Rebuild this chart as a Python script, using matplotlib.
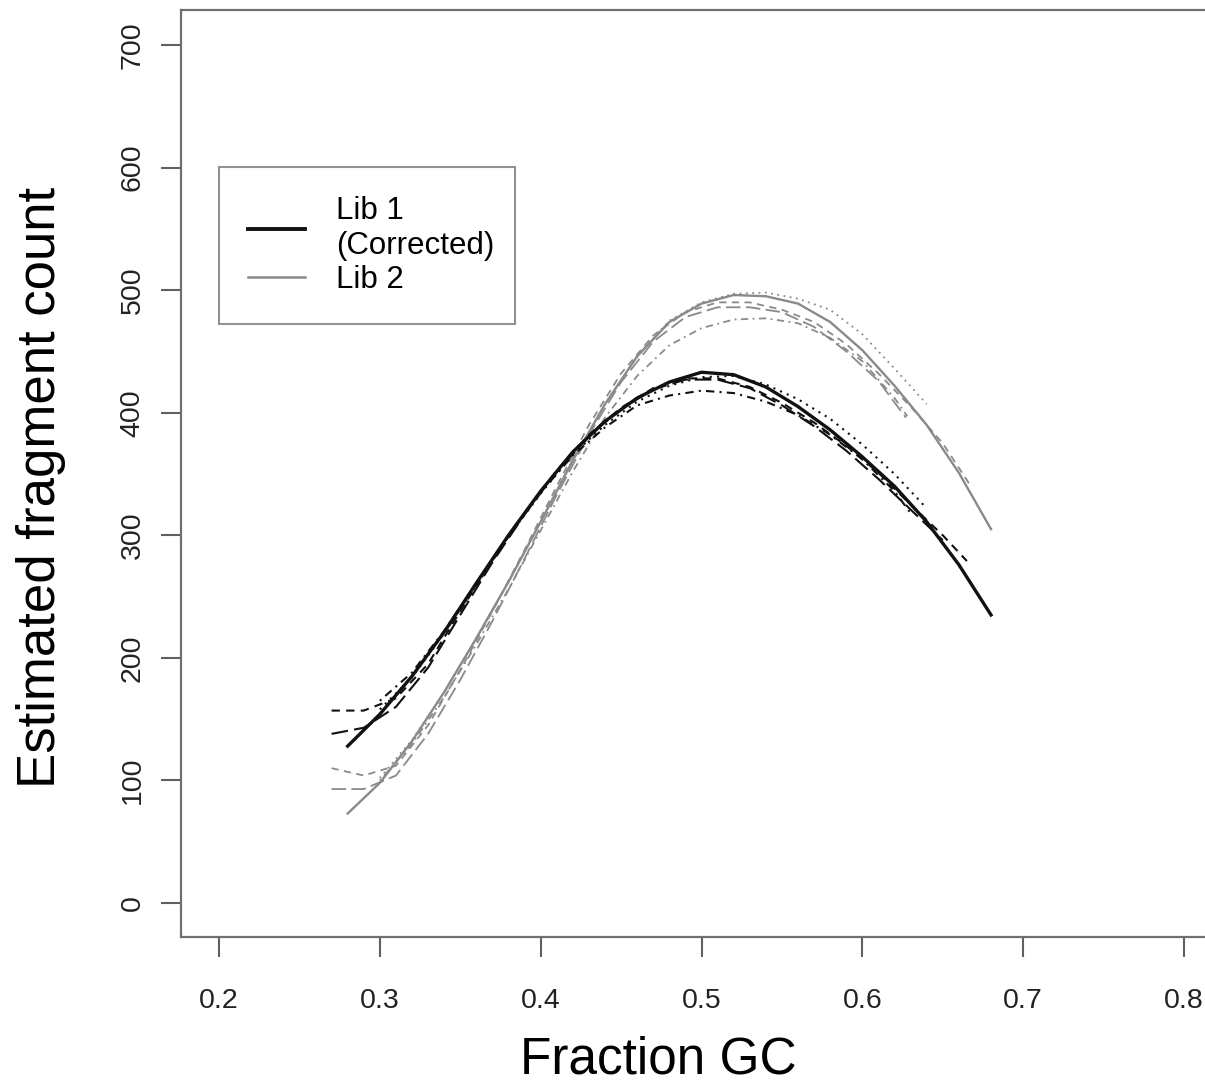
import matplotlib
matplotlib.use("Agg")
import matplotlib.pyplot as plt
from matplotlib.lines import Line2D

plt.rcParams['font.family'] = ['Liberation Sans', 'DejaVu Sans']

# Lib 1 (corrected) - black curves
lib1_solid_x = [0.28, 0.30, 0.32, 0.34, 0.36, 0.38, 0.40, 0.42, 0.44, 0.46, 0.48,
                0.50, 0.52, 0.54, 0.56, 0.58, 0.60, 0.62, 0.64, 0.66, 0.68]
lib1_solid_y = [128, 154, 185, 221, 261, 300, 336, 368, 393, 412, 425,
                433, 431, 421, 405, 386, 364, 340, 311, 276, 235]

lib1_dash_x = [0.27, 0.29, 0.31, 0.33, 0.35, 0.37, 0.39, 0.41, 0.43, 0.45, 0.47,
               0.49, 0.51, 0.53, 0.55, 0.57, 0.59, 0.61, 0.63, 0.65, 0.665]
lib1_dash_y = [157, 157, 167, 195, 238, 280, 318, 353, 382, 404, 420,
               428, 428, 421, 408, 392, 373, 351, 325, 300, 279]

lib1_long_x = [0.27, 0.29, 0.31, 0.33, 0.35, 0.37, 0.39, 0.41, 0.43, 0.45, 0.47,
               0.49, 0.51, 0.53, 0.55, 0.57, 0.59, 0.61, 0.63, 0.65]
lib1_long_y = [138, 143, 160, 192, 235, 278, 317, 352, 381, 403, 419,
               427, 427, 420, 406, 389, 369, 346, 321, 296]

lib1_dot_x = [0.30, 0.32, 0.34, 0.36, 0.38, 0.40, 0.42, 0.44, 0.46, 0.48,
              0.50, 0.52, 0.54, 0.56, 0.58, 0.60, 0.62, 0.64]
lib1_dot_y = [158, 184, 220, 259, 299, 334, 366, 390, 409, 422,
              429, 430, 423, 411, 395, 374, 350, 322]

lib1_dd_x = [0.30, 0.32, 0.34, 0.36, 0.38, 0.40, 0.42, 0.44, 0.46, 0.48,
             0.50, 0.52, 0.54, 0.56, 0.58, 0.60, 0.62, 0.63]
lib1_dd_y = [165, 188, 222, 261, 300, 335, 365, 388, 406, 414,
             418, 416, 409, 398, 382, 362, 336, 318]

# Lib 2 - gray curves
lib2_solid_x = [0.28, 0.30, 0.32, 0.34, 0.36, 0.38, 0.40, 0.42, 0.44, 0.46, 0.48,
                0.50, 0.52, 0.54, 0.56, 0.58, 0.60, 0.62, 0.64, 0.66, 0.68]
lib2_solid_y = [73, 98, 132, 172, 216, 262, 311, 361, 407, 446, 474,
                489, 496, 495, 489, 474, 451, 422, 390, 351, 305]

lib2_dash_x = [0.27, 0.29, 0.31, 0.33, 0.35, 0.37, 0.39, 0.41, 0.43, 0.45, 0.47,
               0.49, 0.51, 0.53, 0.55, 0.57, 0.59, 0.61, 0.63, 0.65, 0.668]
lib2_dash_y = [110, 104, 112, 145, 190, 238, 288, 340, 390, 432, 463,
               482, 490, 490, 484, 474, 456, 432, 405, 375, 339]

lib2_long_x = [0.27, 0.29, 0.31, 0.33, 0.35, 0.37, 0.39, 0.41, 0.43, 0.45, 0.47,
               0.49, 0.51, 0.53, 0.55, 0.57, 0.59, 0.61, 0.627]
lib2_long_y = [93, 93, 104, 138, 182, 230, 281, 333, 382, 425, 458,
               478, 486, 486, 482, 470, 450, 426, 396]

lib2_dot_x = [0.30, 0.32, 0.34, 0.36, 0.38, 0.40, 0.42, 0.44, 0.46, 0.48,
              0.50, 0.52, 0.54, 0.56, 0.58, 0.60, 0.62, 0.64]
lib2_dot_y = [102, 133, 172, 216, 262, 311, 362, 407, 446, 475,
              490, 497, 498, 493, 484, 464, 436, 407]

lib2_dd_x = [0.30, 0.32, 0.34, 0.36, 0.38, 0.40, 0.42, 0.44, 0.46, 0.48,
             0.50, 0.52, 0.54, 0.56, 0.58, 0.60, 0.62, 0.628]
lib2_dd_y = [100, 130, 168, 211, 256, 304, 352, 396, 430, 455,
             469, 476, 477, 473, 461, 442, 412, 397]

x_ticks = [0.2, 0.3, 0.4, 0.5, 0.6, 0.7, 0.8]
y_ticks = [0, 100, 200, 300, 400, 500, 600, 700]

black = '#111111'
gray = '#8a8a8a'
dashed = (0, (4, 3))
longdash = (0, (8, 3))
dotted = (0, (1, 2.5))
dotdash = (0, (1, 2.5, 4, 2.5))

fig = plt.figure(figsize=(12.05, 10.85), dpi=100)
ax = fig.add_axes([181 / 1205, 148 / 1085, 1041 / 1205, 927 / 1085])

# gray (Lib 2) first so black sits on top
ax.plot(lib2_dash_x, lib2_dash_y, color=gray, lw=1.3, linestyle=dashed)
ax.plot(lib2_long_x, lib2_long_y, color=gray, lw=1.3, linestyle=longdash)
ax.plot(lib2_dot_x, lib2_dot_y, color=gray, lw=1.3, linestyle=dotted)
ax.plot(lib2_dd_x, lib2_dd_y, color=gray, lw=1.3, linestyle=dotdash)
ax.plot(lib2_solid_x, lib2_solid_y, color=gray, lw=1.7)

ax.plot(lib1_dash_x, lib1_dash_y, color=black, lw=1.5, linestyle=dashed)
ax.plot(lib1_long_x, lib1_long_y, color=black, lw=1.5, linestyle=longdash)
ax.plot(lib1_dot_x, lib1_dot_y, color=black, lw=1.5, linestyle=dotted)
ax.plot(lib1_dd_x, lib1_dd_y, color=black, lw=1.5, linestyle=dotdash)
ax.plot(lib1_solid_x, lib1_solid_y, color=black, lw=2.4)

ax.set_xlim(0.1764, 0.8236)
ax.set_ylim(-27.7, 728.5)
ax.set_xticks(x_ticks)
ax.set_xticklabels([str(v) for v in x_ticks])
ax.set_yticks(y_ticks)
ax.set_yticklabels([str(v) for v in y_ticks], rotation=90, va='center')
ax.tick_params(axis='both', direction='out', length=14.5, width=1.5,
               color='#606060', labelsize=20.5, labelcolor='#222222')
ax.tick_params(axis='x', pad=22)
ax.tick_params(axis='y', pad=11)
for side in ['left', 'bottom', 'top', 'right']:
    ax.spines[side].set_color('#707070')
    ax.spines[side].set_linewidth(1.6)

# axis titles placed like the R output (centred on the original plot region)
fig.text(658 / 1205, 1 - 1073 / 1085, "Fraction GC", fontsize=37,
         ha='center', va='baseline')
fig.text(55 / 1205, 1 - 487.5 / 1085, "Estimated fragment count", fontsize=38,
         rotation=90, rotation_mode='anchor', ha='center', va='baseline')

handles = [Line2D([0], [0], color=black, lw=2.8),
           Line2D([0], [0], color=gray, lw=1.8)]
leg = ax.legend(handles, ["Lib 1\n(Corrected)", "Lib 2"], loc='upper left',
                bbox_to_anchor=(219 / 1205, 1 - 330 / 1085, 296 / 1205, 163 / 1085),
                bbox_transform=fig.transFigure, mode='expand',
                fontsize=22.5, frameon=True,
                fancybox=False, edgecolor='#777777', handlelength=1.82,
                handletextpad=1.0, borderpad=0.93, labelspacing=0.15,
                borderaxespad=0)
leg.get_frame().set_linewidth(1.5)

fig.savefig("out.png", dpi=100)
